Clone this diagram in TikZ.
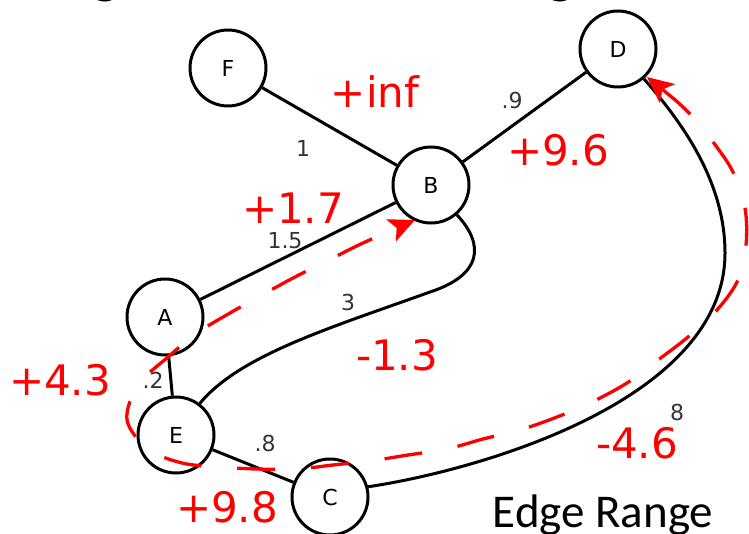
\documentclass[tikz,border=0pt]{standalone}
\usepackage{fontspec}
\setmainfont{DejaVu Sans}
\newfontfamily\calibrifont{Carlito}
\usetikzlibrary{arrows.meta}
\begin{document}
\begin{tikzpicture}[x=1pt,y=-1pt,
  vtx/.style={circle,draw=black,line width=3pt,minimum size=76pt,inner sep=0pt,
    font=\fontsize{22}{22}\selectfont,fill=white},
  edge/.style={line width=3pt,black},
  wlab/.style={font=\fontsize{22}{22}\selectfont,text=black!80,inner sep=0pt},
  rlab/.style={font=\fontsize{42}{42}\selectfont,text=red,inner sep=0pt},
  flow/.style={red,line width=3.3pt,dash pattern=on 38pt off 36pt,
    >={Stealth[length=26pt,width=24pt,inset=6pt]},<->}]
\useasboundingbox (0,0) rectangle (749,534);
\clip (0,0) rectangle (749,534);
% cut-off title letters
\node[font=\calibrifont\bfseries\fontsize{56}{56}\selectfont,anchor=base,inner sep=0pt] (t1) at (106,-7) {g};
\node[font=\calibrifont\bfseries\fontsize{56}{56}\selectfont,anchor=base,inner sep=0pt] (t2) at (561,-7) {g};
% vertices
\node[vtx] (F) at (228,68) {F};
\node[vtx] (B) at (431,185) {B};
\node[vtx] (D) at (618,49) {D};
\node[vtx] (A) at (165,317) {A};
\node[vtx] (E) at (176,435) {E};
\node[vtx] (C) at (330,497) {C};
% edges
\draw[edge] (F) -- (B);
\draw[edge] (B) -- (D);
\draw[edge] (A) -- (B);
\draw[edge] (A) -- (E);
\draw[edge] (E) -- (C);
\draw[edge] (B.-49) .. controls (485,245) and (482,275) .. (430,292)
  .. controls (330,328) and (240,355) .. (E.53);
\draw[edge] (C.15) .. controls (480,470) and (725,400) .. (725,253)
  .. controls (725,180) and (680,120) .. (D.-49);
% edge weights
\node[wlab] (w1) at (303,148) {1};
\node[wlab] (w2) at (512,100) {.9};
\node[wlab] (w3) at (285,241) {1.5};
\node[wlab] (w4) at (348,302) {3};
\node[wlab] (w5) at (153,380) {.2};
\node[wlab] (w6) at (265,443) {.8};
\node[wlab] (w7) at (677,412) {8};
% red range labels
\node[rlab] (r1) at (375,92) {+inf};
\node[rlab] (r2) at (558,150) {+9.6};
\node[rlab] (r3) at (293,208) {+1.7};
\node[rlab] (r4) at (397,355) {-1.3};
\node[rlab] (r5) at (60,380) {+4.3};
\node[rlab] (r6) at (227,507) {+9.8};
\node[rlab] (r7) at (637,443) {-4.6};
% title
\node[font=\calibrifont\fontsize{47}{47}\selectfont,anchor=base,inner sep=0pt] (title) at (603,527) {Edge Range};
% flow path
\draw[flow] plot[smooth,tension=0.55] coordinates {
 (647,77) (688,112) (713,142) (733,172) (745,208) (746,245) (738,280) (717,310)
 (688,337) (658,360) (627,383) (592,402) (557,417) (520,430) (483,439) (447,449)
 (408,455) (370,461) (333,465) (297,469) (257,469) (220,467) (182,463) (148,449)
 (127,420) (138,385) (168,357) (197,333) (230,313) (262,295) (295,277) (329,260)
 (363,243) (415,220)};
\end{tikzpicture}
\end{document}
